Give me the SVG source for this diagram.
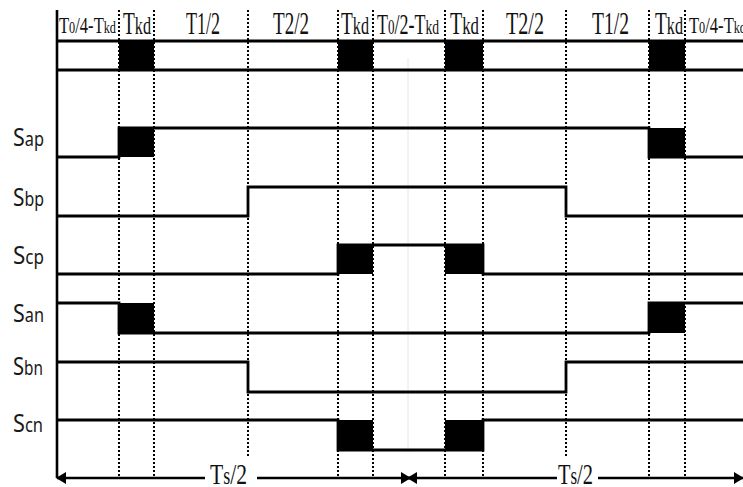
<svg xmlns="http://www.w3.org/2000/svg" width="743" height="487" viewBox="0 0 743 487">
<style>
.axis{stroke:#000;stroke-width:2.6;fill:none}
.wave{stroke:#000;stroke-width:2.8;fill:none;stroke-linejoin:miter}
.dot{stroke:#000;stroke-width:2;stroke-dasharray:2 2;fill:none}
.faint{stroke:#e6e6e6;stroke-width:1;fill:none}
.box{fill:#000}
.hd{font-family:"Liberation Serif","Times New Roman",serif;fill:#111}
.lb{font-family:"Noto Sans","Open Sans",sans-serif;fill:#1a1a1a}
.arr{stroke:#000;stroke-width:2.6;fill:none}
</style>
<defs>
<marker id="ah" viewBox="0 0 10 12" refX="9" refY="6" markerWidth="10" markerHeight="12" markerUnits="userSpaceOnUse" orient="auto-start-reverse">
<path d="M0 0 L10 6 L0 12 Z" fill="#000"/>
</marker>
</defs>
<rect width="743" height="487" fill="#fff"/>

<g id="grid">
<line class="faint" x1="408" y1="58" x2="408" y2="452"/>
<line class="dot" x1="119" y1="10" x2="119" y2="478"/>
<line class="dot" x1="154" y1="10" x2="154" y2="478"/>
<line class="dot" x1="248" y1="10" x2="248" y2="457"/>
<line class="dot" x1="338" y1="10" x2="338" y2="478"/>
<line class="dot" x1="373" y1="10" x2="373" y2="478"/>
<line class="dot" x1="445" y1="10" x2="445" y2="478"/>
<line class="dot" x1="483" y1="10" x2="483" y2="478"/>
<line class="dot" x1="566" y1="10" x2="566" y2="456"/>
<line class="dot" x1="649" y1="10" x2="649" y2="478"/>
<line class="dot" x1="685" y1="10" x2="685" y2="478"/>
<line class="axis" x1="57" y1="10" x2="57" y2="478"/>
</g>

<g id="header">
<line class="wave" x1="57" y1="41" x2="743" y2="41"/>
<line class="wave" x1="57" y1="70" x2="743" y2="70"/>
<rect class="box" x="119" y="41" width="35" height="29"/>
<rect class="box" x="338" y="41" width="35" height="29"/>
<rect class="box" x="445" y="41" width="38" height="29"/>
<rect class="box" x="649" y="41" width="36" height="29"/>
<text class="hd" x="59" y="33" textLength="57" lengthAdjust="spacingAndGlyphs"><tspan font-size="23">T</tspan><tspan font-size="17">0</tspan><tspan font-size="23">/4-T</tspan><tspan font-size="17">kd</tspan></text>
<text class="hd" x="123" y="34" textLength="28" lengthAdjust="spacingAndGlyphs"><tspan font-size="31">T</tspan><tspan font-size="26">kd</tspan></text>
<text class="hd" x="186" y="34" textLength="34" lengthAdjust="spacingAndGlyphs" font-size="31">T1/2</text>
<text class="hd" x="273" y="34" textLength="36" lengthAdjust="spacingAndGlyphs" font-size="31">T2/2</text>
<text class="hd" x="341" y="34" textLength="28" lengthAdjust="spacingAndGlyphs"><tspan font-size="31">T</tspan><tspan font-size="26">kd</tspan></text>
<text class="hd" x="377" y="34" textLength="62" lengthAdjust="spacingAndGlyphs"><tspan font-size="29">T</tspan><tspan font-size="21">0</tspan><tspan font-size="29">/2-T</tspan><tspan font-size="22">kd</tspan></text>
<text class="hd" x="450" y="34" textLength="29" lengthAdjust="spacingAndGlyphs"><tspan font-size="31">T</tspan><tspan font-size="26">kd</tspan></text>
<text class="hd" x="506" y="34" textLength="38" lengthAdjust="spacingAndGlyphs" font-size="31">T2/2</text>
<text class="hd" x="592" y="34" textLength="37" lengthAdjust="spacingAndGlyphs" font-size="31">T1/2</text>
<text class="hd" x="655" y="34" textLength="28" lengthAdjust="spacingAndGlyphs"><tspan font-size="31">T</tspan><tspan font-size="26">kd</tspan></text>
<text class="hd" x="689" y="33" textLength="57" lengthAdjust="spacingAndGlyphs"><tspan font-size="23">T</tspan><tspan font-size="17">0</tspan><tspan font-size="23">/4-T</tspan><tspan font-size="17">kd</tspan></text>
</g>

<g id="Sap">
<text class="lb" x="13" y="146" textLength="31" lengthAdjust="spacingAndGlyphs"><tspan font-size="25">S</tspan><tspan font-size="19">ap</tspan></text>
<path class="wave" d="M57 157 H119 V128 H649 V157 H743"/>
<rect class="box" x="119" y="128" width="35" height="29"/>
<rect class="box" x="649" y="128" width="36" height="29"/>
</g>

<g id="Sbp">
<text class="lb" x="13" y="206" textLength="31" lengthAdjust="spacingAndGlyphs"><tspan font-size="25">S</tspan><tspan font-size="19">bp</tspan></text>
<path class="wave" d="M57 216 H248 V187 H566 V216 H743"/>
</g>

<g id="Scp">
<text class="lb" x="13" y="264" textLength="31" lengthAdjust="spacingAndGlyphs"><tspan font-size="25">S</tspan><tspan font-size="19">cp</tspan></text>
<path class="wave" d="M57 274 H338 V245 H483 V274 H743"/>
<rect class="box" x="338" y="245" width="35" height="29"/>
<rect class="box" x="445" y="245" width="38" height="29"/>
</g>

<g id="San">
<text class="lb" x="13" y="322" textLength="31" lengthAdjust="spacingAndGlyphs"><tspan font-size="25">S</tspan><tspan font-size="19">an</tspan></text>
<path class="wave" d="M57 303 H119 V333 H649 V303 H743"/>
<rect class="box" x="119" y="303" width="35" height="30"/>
<rect class="box" x="649" y="303" width="36" height="30"/>
</g>

<g id="Sbn">
<text class="lb" x="13" y="375" textLength="30" lengthAdjust="spacingAndGlyphs"><tspan font-size="25">S</tspan><tspan font-size="19">bn</tspan></text>
<path class="wave" d="M57 362 H248 V392 H566 V362 H743"/>
</g>

<g id="Scn">
<text class="lb" x="13" y="432" textLength="30" lengthAdjust="spacingAndGlyphs"><tspan font-size="25">S</tspan><tspan font-size="19">cn</tspan></text>
<path class="wave" d="M57 420 H338 V450 H483 V420 H743"/>
<rect class="box" x="338" y="420" width="35" height="30"/>
<rect class="box" x="445" y="420" width="38" height="30"/>
</g>

<g id="connectors">
<line class="arr" x1="57" y1="478" x2="205" y2="478" marker-start="url(#ah)"/>
<line class="arr" x1="257" y1="478" x2="410" y2="478" marker-end="url(#ah)"/>
<line class="arr" x1="408" y1="478" x2="557" y2="478" marker-start="url(#ah)"/>
<line class="arr" x1="598" y1="478" x2="743" y2="478" marker-end="url(#ah)"/>
<text class="hd" x="210" y="484" textLength="37" lengthAdjust="spacingAndGlyphs"><tspan font-size="30">T</tspan><tspan font-size="25">s</tspan><tspan font-size="30">/2</tspan></text>
<text class="hd" x="558" y="484" textLength="35" lengthAdjust="spacingAndGlyphs"><tspan font-size="30">T</tspan><tspan font-size="25">s</tspan><tspan font-size="30">/2</tspan></text>
</g>
</svg>
